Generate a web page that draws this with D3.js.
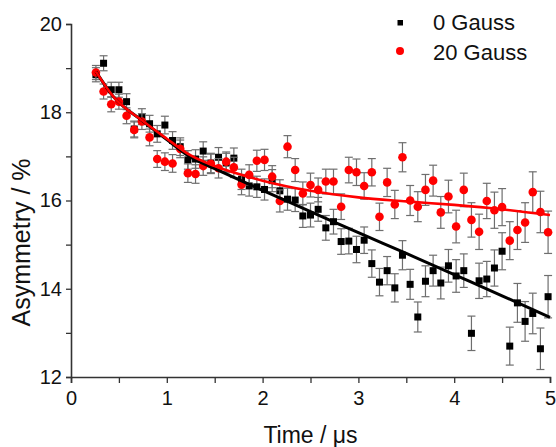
<!DOCTYPE html>
<html>
<head>
<meta charset="utf-8">
<script src="https://cdn.jsdelivr.net/npm/d3@7"></script>
<style>
  body { margin: 0; background: #fff; }
  svg { display: block; font-family: Arial, "Liberation Sans", sans-serif; }
</style>
</head>
<body>
<div id="chart"></div>
<script>
// time points (us)
const times = [0.26, 0.34, 0.42, 0.50, 0.58, 0.66, 0.74, 0.82, 0.90, 0.98,
    1.06, 1.14, 1.22, 1.30, 1.38, 1.46, 1.54, 1.62, 1.70, 1.78,
    1.86, 1.94, 2.02, 2.10, 2.18, 2.26, 2.34, 2.42, 2.50, 2.58,
    2.66, 2.74, 2.82, 2.90, 2.98, 3.06, 3.14, 3.22, 3.30, 3.38,
    3.46, 3.54, 3.62, 3.70, 3.78, 3.86, 3.94, 4.02, 4.10, 4.18,
    4.26, 4.34, 4.42, 4.50, 4.58, 4.66, 4.74, 4.82, 4.90, 4.98];

const gauss0 = [18.85, 19.11, 18.51, 18.51, 18.24, 17.62, 17.90, 17.74, 17.51, 17.71,
    17.36, 17.22, 16.92, 16.94, 17.12, 16.85, 16.98, 16.85, 16.96, 16.48,
    16.33, 16.31, 16.25, 16.45, 16.22, 16.03, 16.01, 15.65, 15.67, 15.80,
    15.38, 15.52, 15.07, 15.08, 14.89, 15.10, 14.57, 14.15, 14.41, 14.02,
    14.76, 14.10, 13.36, 14.17, 14.41, 14.13, 14.52, 14.29, 14.41, 12.99,
    14.18, 14.22, 14.47, 14.85, 12.70, 13.68, 13.26, 13.44, 12.64, 13.82];

const gauss20 = [18.90, 18.47, 18.18, 18.24, 17.92, 17.60, 17.79, 17.43, 16.94, 16.88,
    16.84, 17.17, 16.62, 16.60, 16.78, 16.83, 16.73, 16.88, 16.75, 16.36,
    16.58, 16.90, 16.92, 16.54, 15.99, 17.22, 16.69, 16.16, 16.35, 16.24,
    16.43, 16.43, 15.86, 16.69, 16.64, 16.33, 16.64, 15.63, 16.41, 15.91,
    16.98, 16.00, 15.86, 16.24, 16.45, 15.73, 16.09, 15.41, 16.24, 15.56,
    15.29, 15.99, 15.78, 15.85, 15.09, 15.33, 15.50, 16.19, 15.74, 15.28];

// error bars (same counting stats for both fields)
const errs = [0.16, 0.17, 0.17, 0.17, 0.18, 0.18, 0.18, 0.19, 0.19, 0.20,
    0.20, 0.20, 0.21, 0.21, 0.21, 0.22, 0.22, 0.22, 0.23, 0.23,
    0.23, 0.24, 0.24, 0.25, 0.25, 0.25, 0.26, 0.26, 0.27, 0.27,
    0.28, 0.28, 0.29, 0.29, 0.30, 0.30, 0.31, 0.31, 0.32, 0.32,
    0.33, 0.34, 0.34, 0.35, 0.35, 0.36, 0.37, 0.37, 0.38, 0.39,
    0.40, 0.40, 0.41, 0.42, 0.43, 0.44, 0.45, 0.46, 0.47, 0.48];

// fit curves
const fitTimes = [0.26, 0.44, 0.75, 1.0, 1.25, 1.5, 2.0, 2.5, 3.0, 3.5, 4.0, 4.5, 5.0];
const fit0 = [18.92, 18.36, 17.80, 17.38, 16.98, 16.72, 16.23, 15.75, 15.27, 14.80, 14.32, 13.84, 13.35];
const fit20 = [18.92, 18.36, 17.80, 17.40, 17.02, 16.78, 16.45, 16.22, 16.07, 15.98, 15.90, 15.80, 15.67];

const xTicks = [0, 1, 2, 3, 4, 5];
const yTicks = [12, 14, 16, 18, 20];
const legendLabels = ['0 Gauss', '20 Gauss'];

const width = 556;
const height = 447;
const margin = { left: 71, right: 6, top: 24, bottom: 70 };

const svg = d3.select('#chart')
    .append('svg')
    .attr('width', width)
    .attr('height', height);

const x = d3.scaleLinear().domain([0, 5]).range([margin.left, width - margin.right]);
const y = d3.scaleLinear().domain([12, 20]).range([height - margin.bottom, margin.top]);

// axes
const axisColor = '#333';
const xAxis = svg.append('g')
    .attr('transform', `translate(0,${y(12)})`)
    .call(d3.axisBottom(x).tickValues(d3.range(0, 5.01, 0.5)).tickSize(6)
        .tickFormat(d => xTicks.includes(d) ? d : ''));
const yAxis = svg.append('g')
    .attr('transform', `translate(${x(0)},0)`)
    .call(d3.axisLeft(y).tickValues(d3.range(12, 20.01, 1)).tickSize(5)
        .tickFormat(d => yTicks.includes(d) ? d : ''));

[xAxis, yAxis].forEach(g => {
    g.select('.domain').attr('stroke', axisColor).attr('stroke-width', 1.6);
    g.selectAll('.tick line').attr('stroke', axisColor).attr('stroke-width', 1.3);
    g.selectAll('.tick text').attr('fill', '#111').style('font-size', '20px')
        .style('font-family', 'Arial, "Liberation Sans", sans-serif');
});
xAxis.selectAll('.tick text').attr('dy', '0.95em');
yAxis.selectAll('.tick text').attr('x', -9);

svg.append('text')
    .attr('x', (x(0) + x(5)) / 2)
    .attr('y', 443)
    .attr('text-anchor', 'middle')
    .style('font-size', '23px')
    .attr('fill', '#111')
    .text('Time / \u03bcs');

svg.append('text')
    .attr('transform', `translate(30,${(y(12) + y(20)) / 2 + 42}) rotate(-90)`)
    .attr('text-anchor', 'middle')
    .style('font-size', '25px')
    .attr('fill', '#111')
    .text('Asymmetry / %');

// data
function drawSeries(vals, color, shape) {
    const pts = times.map((t, i) => ({ t, v: vals[i], e: errs[i] }));
    const g = svg.append('g');
    const bars = g.selectAll('g.err').data(pts).enter().append('g')
        .attr('stroke', '#6e6e6e').attr('stroke-width', 1.2);
    bars.append('line')
        .attr('x1', d => x(d.t)).attr('x2', d => x(d.t))
        .attr('y1', d => y(d.v - d.e)).attr('y2', d => y(d.v + d.e));
    bars.append('line')
        .attr('x1', d => x(d.t) - 4).attr('x2', d => x(d.t) + 4)
        .attr('y1', d => y(d.v + d.e)).attr('y2', d => y(d.v + d.e));
    bars.append('line')
        .attr('x1', d => x(d.t) - 4).attr('x2', d => x(d.t) + 4)
        .attr('y1', d => y(d.v - d.e)).attr('y2', d => y(d.v - d.e));
    if (shape === 'square') {
        g.selectAll('rect').data(pts).enter().append('rect')
            .attr('x', d => x(d.t) - 3.5).attr('y', d => y(d.v) - 3.5)
            .attr('width', 7).attr('height', 7)
            .attr('fill', color);
    } else {
        g.selectAll('circle').data(pts).enter().append('circle')
            .attr('cx', d => x(d.t)).attr('cy', d => y(d.v))
            .attr('r', 4.3)
            .attr('fill', color);
    }
}
drawSeries(gauss0, '#000', 'square');
drawSeries(gauss20, '#f00', 'circle');

const line = d3.line().x(d => x(d[0])).y(d => y(d[1])).curve(d3.curveMonotoneX);
svg.append('path')
    .datum(fitTimes.map((t, i) => [t, fit0[i]]))
    .attr('d', line).attr('fill', 'none').attr('stroke', '#000').attr('stroke-width', 3);
svg.append('path')
    .datum(fitTimes.map((t, i) => [t, fit20[i]]))
    .attr('d', line).attr('fill', 'none').attr('stroke', '#f00').attr('stroke-width', 2.6);

// legend
const legend = svg.append('g');
legend.append('rect').attr('x', 397.5).attr('y', 20).attr('width', 5.5).attr('height', 5.5).attr('fill', '#000');
legend.append('circle').attr('cx', 400).attr('cy', 51).attr('r', 4).attr('fill', '#f00');
legend.selectAll('text').data(legendLabels).enter().append('text')
    .attr('x', 433)
    .attr('y', (d, i) => 30 + i * 30)
    .style('font-size', '22px')
    .attr('fill', '#111')
    .text(d => d);
</script>
</body>
</html>
